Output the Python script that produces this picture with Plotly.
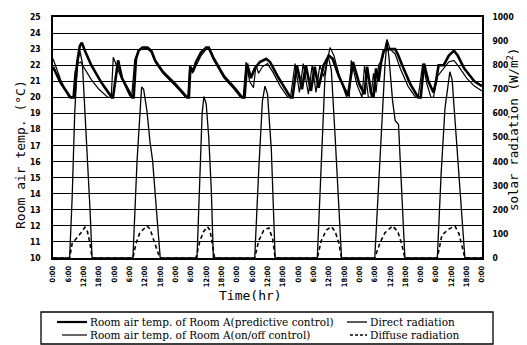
import plotly.graph_objects as go

# ---------------- data ----------------
hours_ticks = list(range(0, 169, 6))
tick_text = ["0:00", "6:00", "12:00", "18:00"] * 7 + ["0:00"]

pred_t = [0, 3, 6.8, 8.3, 9.5, 10.5, 11.3, 12.5, 15, 19, 23, 23.5, 25.5, 27, 31, 31.6, 32.5, 33.5, 35, 37,
          38.5, 40, 43, 48, 52.5, 53.2, 53.8, 54.8, 56, 58, 60, 61, 63, 67, 71, 74, 75, 76, 77.5, 79,
          81, 83.5, 85, 88, 93, 93.8, 95.5, 97.5, 99, 101, 102.5, 104, 106, 108, 109.5, 112, 115.5, 117.5,
          120, 122, 123, 124.5, 125.5, 126.5, 127.5, 128.5, 129.5, 131, 134, 135, 137, 140, 143, 144,
          145.3, 147, 149, 150, 151, 153, 155, 157, 158.5, 161, 165, 168]
pred_temp = [21.9, 20.9, 20.0, 20.0, 22.2, 23.2, 23.4, 22.9, 22.0, 20.9, 20.0, 20.0, 22.3, 21.2, 20.0, 20.0,
             22.4, 22.9, 23.1, 23.1, 22.9, 22.3, 21.6, 20.8, 20.0, 20.0, 21.9, 21.6, 22.2, 22.8, 23.1, 23.1,
             22.4, 21.3, 20.6, 20.0, 20.0, 22.1, 21.2, 21.8, 22.2, 22.4, 22.2, 21.3, 20.0, 20.0, 22.0, 20.5,
             22.0, 20.4, 21.9, 20.6, 22.0, 22.6, 22.4, 21.3, 20.1, 22.2, 20.8, 20.2, 21.9, 20.3, 20.0, 21.8,
             21.0, 22.2, 22.9, 23.0, 23.0, 22.7, 21.9, 20.8, 20.0, 20.0, 22.1, 21.0, 20.3, 21.0, 22.0, 22.0,
             22.6, 22.9, 22.6, 21.8, 21.0, 20.7]

onoff_t = [0, 3, 6.3, 7.8, 8.6, 9.8, 10.8, 12, 15, 18, 21.5, 22.8, 23.6, 26, 30, 30.8, 32, 33.5, 35, 37,
           38.5, 40, 43, 48, 52, 52.8, 53.5, 54.6, 56, 58, 60, 61, 63, 67, 71, 73.5, 74.5, 75.6, 77, 78.5,
           79.5, 80.5, 82, 84, 86, 89, 92, 93, 94.8, 96.5, 98, 100, 101.5, 103, 104.5, 106, 107, 108.5,
           110, 112, 115, 116, 116.8, 119, 121, 122, 123.5, 124.5, 125.5, 126.5, 127.5, 129, 130.8, 132,
           134, 136, 139, 142, 143, 144.8, 146.5, 148, 149, 150.5, 153, 155, 157, 159, 162, 165, 168]
onoff_temp = [22.4, 21.1, 20.0, 20.0, 21.6, 22.1, 22.2, 21.9, 21.1, 20.5, 20.0, 20.0, 22.5, 21.5, 20.1, 20.0,
              22.3, 22.9, 23.1, 23.0, 22.8, 22.2, 21.5, 20.7, 20.0, 20.0, 22.0, 21.5, 22.0, 22.6, 23.0, 23.0,
              22.3, 21.2, 20.5, 20.0, 20.0, 22.2, 21.0, 20.6, 22.0, 21.5, 21.9, 22.1, 21.6, 20.7, 20.0, 20.0,
              22.1, 20.3, 22.1, 20.2, 22.0, 20.3, 22.0, 21.3, 22.0, 23.1, 22.6, 21.4, 20.0, 20.0, 22.3, 20.8,
              20.0, 22.0, 20.0, 20.0, 21.5, 20.3, 22.0, 22.4, 23.6, 23.0, 22.7, 21.8, 20.7, 20.0, 20.0, 22.1,
              20.8, 20.0, 20.0, 21.3, 21.8, 22.2, 22.3, 21.9, 21.2, 20.7, 20.4]

direct_t = [0, 6.5, 7.5, 8.5, 9.5, 10.5, 11.5, 13, 14.5, 15.3,
            31.3, 32.9, 34, 34.7, 35.5, 36.8, 38, 39, 40.5, 42,
            56.4, 57.5, 58.4, 59.1, 60, 61, 62, 62.8,
            79, 80.5, 82, 83, 84, 85.5, 87,
            103.5, 105, 106.5, 107.7, 109, 110.5, 112, 113,
            126, 127, 128.5, 130, 130.8, 131.5, 133, 134, 135.3, 136.5, 137.8,
            150.5, 152, 153.5, 155.4, 156.3, 157.5, 159, 160.5, 161.3, 168]
direct_rad = [0, 0, 250, 600, 800, 860, 810, 520, 200, 0,
              0, 400, 620, 710, 700, 610, 480, 405, 200, 0,
              0, 350, 600, 670, 640, 500, 280, 0,
              0, 350, 650, 713, 680, 450, 0,
              0, 400, 750, 840, 780, 500, 200, 0,
              0, 200, 500, 800, 900, 840, 650, 570, 555, 300, 0,
              0, 350, 620, 773, 740, 560, 350, 120, 0, 0]

diffuse_t = [0, 6.5, 7.5, 9.8, 11, 12.5, 13.5, 14.5, 15.3,
             31.3, 32.5, 34, 36.8, 38, 40, 41.8,
             56, 57.5, 59, 60.5, 61.5, 62.5, 63.3,
             79, 80.5, 82.5, 84.5, 86, 87,
             103.5, 105, 107, 109, 110.5, 112, 113,
             126, 128, 130, 133, 135, 136.5, 137.8,
             150.5, 151.5, 152.3, 155, 157.4, 159, 160.3, 161.3, 168]
diffuse_rad = [0, 0, 60, 87, 105, 128, 110, 60, 0,
               0, 60, 105, 133, 120, 60, 0,
               0, 70, 110, 130, 115, 60, 0,
               0, 70, 115, 125, 80, 0,
               0, 70, 115, 130, 110, 60, 0,
               0, 62, 105, 133, 110, 60, 0,
               0, 60, 95, 120, 133, 100, 50, 0, 0]

temp_ticks = list(range(10, 26))
rad_ticks = list(range(0, 1001, 100))

legend_labels = ["Room air temp. of Room A(predictive control)",
                 "Room air temp. of Room A(on/off control)",
                 "Direct radiation", "Diffuse radiation"]

# ---------------- figure ----------------
# the page body has an 8px margin, so the figure is placed 8px right and down
OX, OY = 8, 8
W, H = 519, 337
L, R, T, B = 45, 45, 9, 87
pw, ph = W - L - R, H - T - B

def px(xp):  # screen pixel -> paper x
    return (xp - OX - L) / pw

def py(yp):  # screen pixel -> paper y
    return (H - B - (yp - OY)) / ph

fig = go.Figure()
fig.add_trace(go.Scatter(x=direct_t, y=direct_rad, yaxis="y2", mode="lines",
                         line=dict(color="black", width=1.3), showlegend=False))
fig.add_trace(go.Scatter(x=diffuse_t, y=diffuse_rad, yaxis="y2", mode="lines",
                         line=dict(color="black", width=1.6, dash="4px,3px"), showlegend=False))
fig.add_trace(go.Scatter(x=onoff_t, y=onoff_temp, mode="lines",
                         line=dict(color="black", width=1.2), showlegend=False))
fig.add_trace(go.Scatter(x=pred_t, y=pred_temp, mode="lines",
                         line=dict(color="black", width=2.6), showlegend=False))

tickfont = dict(family="DejaVu Sans Condensed, Liberation Sans Narrow, Liberation Sans, Arial",
                size=8.5, color="black", weight="bold")
mono = dict(family="DejaVu Sans Mono, Liberation Mono, monospace", size=13, color="black")
serif = dict(family="DejaVu Serif, Liberation Serif, serif", size=10.5, color="black")

fig.update_layout(
    width=W, height=H, margin=dict(l=L, r=R, t=T, b=B, autoexpand=False),
    paper_bgcolor="white", plot_bgcolor="white", showlegend=False,
    xaxis=dict(range=[0, 168], tickmode="array", tickvals=hours_ticks, ticktext=tick_text,
               tickangle=-90, tickfont=dict(tickfont, size=7.5), showgrid=False, zeroline=False,
               showline=True, linecolor="black", linewidth=1.5, mirror=True, ticks="",
               ticklabelstandoff=3),
    yaxis=dict(range=[10, 25], tickmode="array", tickvals=temp_ticks, tickfont=tickfont,
               showgrid=True, gridcolor="black", gridwidth=1.4, zeroline=False,
               showline=True, linecolor="black", linewidth=1.5, ticks="", ticklabelstandoff=9),
    yaxis2=dict(range=[0, 1000], overlaying="y", side="right", tickmode="array", tickvals=rad_ticks,
                tickfont=tickfont, showgrid=False, zeroline=False, showline=True, linecolor="black",
                linewidth=1.5, ticks="", ticklabelstandoff=7),
)

ann = []
ann.append(dict(text="Room air temp. (°C)", x=px(20), y=py(155), xref="paper", yref="paper",
                showarrow=False, textangle=-90, font=mono, xanchor="center", yanchor="middle"))
ann.append(dict(text="solar radiation (W/m<sup>2</sup>)", x=px(513), y=py(130), xref="paper", yref="paper",
                showarrow=False, textangle=-90, font=dict(mono, size=12.5), xanchor="center", yanchor="middle"))
ann.append(dict(text="Time(hr)", x=px(250), y=py(295), xref="paper", yref="paper",
                showarrow=False, font=mono, xanchor="center", yanchor="middle"))

shapes = []
shapes.append(dict(type="rect", xref="paper", yref="paper", x0=px(41), x1=px(493), y0=py(312), y1=py(344),
                   line=dict(color="black", width=1.3)))
rows = [322, 335]
shapes.append(dict(type="line", xref="paper", yref="paper", x0=px(57), x1=px(87), y0=py(rows[0]), y1=py(rows[0]),
                   line=dict(color="black", width=2.2)))
shapes.append(dict(type="line", xref="paper", yref="paper", x0=px(62), x1=px(87), y0=py(rows[1]), y1=py(rows[1]),
                   line=dict(color="black", width=1.2)))
shapes.append(dict(type="line", xref="paper", yref="paper", x0=px(347), x1=px(367), y0=py(rows[0]), y1=py(rows[0]),
                   line=dict(color="black", width=1.3)))
shapes.append(dict(type="line", xref="paper", yref="paper", x0=px(350), x1=px(367), y0=py(rows[1]), y1=py(rows[1]),
                   line=dict(color="black", width=1.3, dash="3px,2px")))

for lbl, xx, yy in zip(legend_labels, [88, 88, 368, 368], [rows[0], rows[1], rows[0], rows[1]]):
    ann.append(dict(text=lbl, x=px(xx), y=py(yy), xref="paper", yref="paper", showarrow=False,
                    font=serif, xanchor="left", yanchor="middle"))

fig.update_layout(annotations=ann, shapes=shapes)
fig.write_html("out.html")
